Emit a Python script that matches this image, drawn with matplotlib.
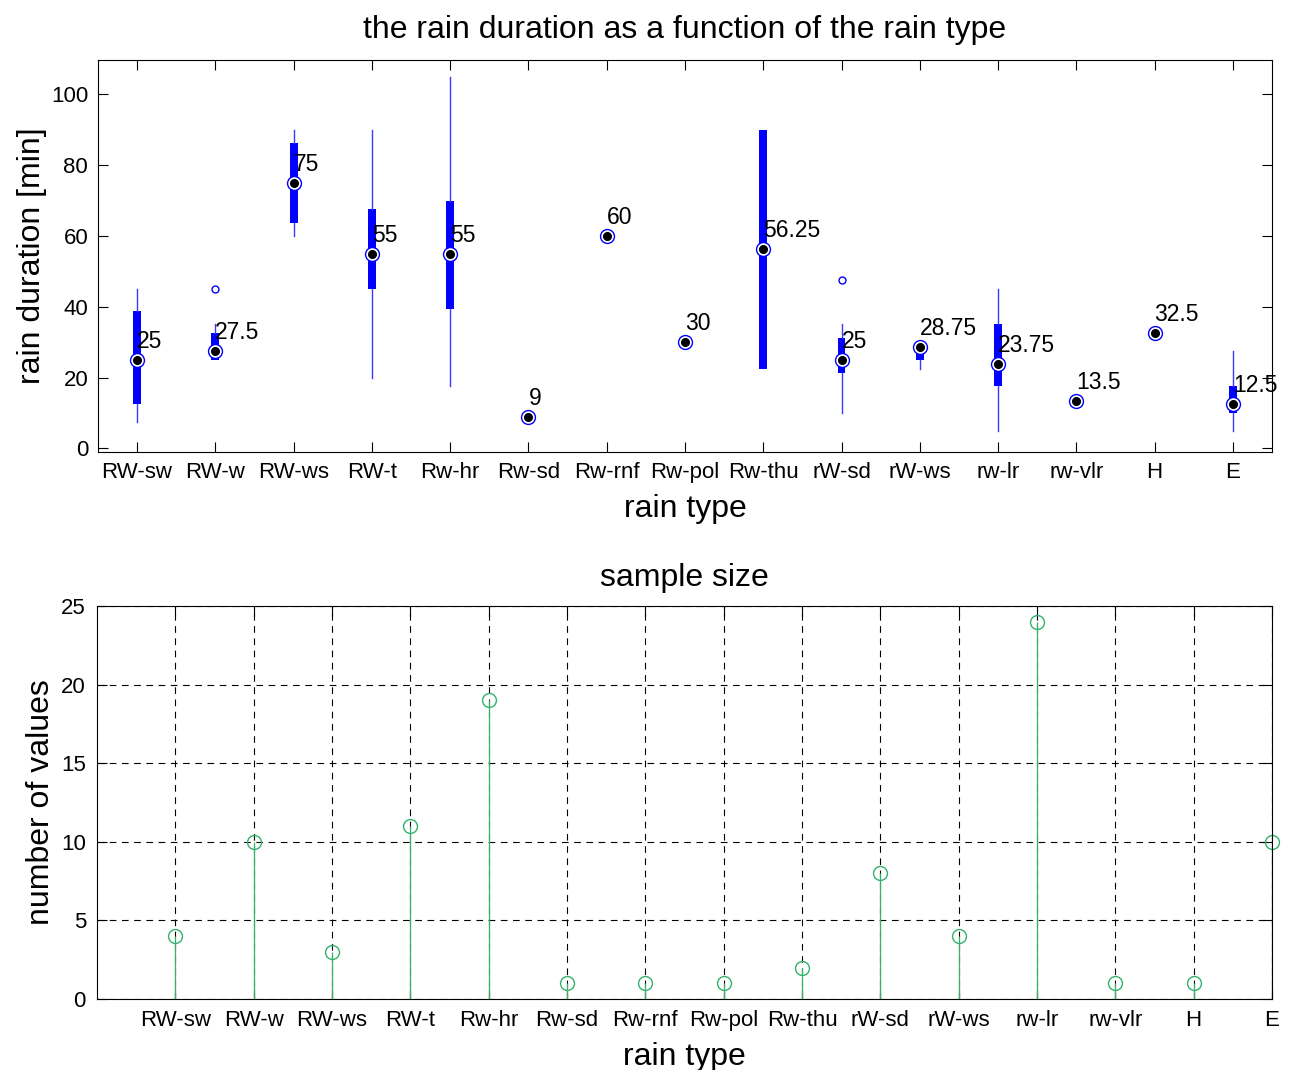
import numpy as np
import matplotlib.pyplot as plt

plt.rcParams['font.family'] = ['Liberation Sans', 'DejaVu Sans']

# rain types
types = ['RW-sw', 'RW-w', 'RW-ws', 'RW-t', 'Rw-hr', 'Rw-sd', 'Rw-rnf', 'Rw-pol',
         'Rw-thu', 'rW-sd', 'rW-ws', 'rw-lr', 'rw-vlr', 'H', 'E']

# box statistics of rain duration [min]
whis_lo = [7.5, 25, 60, 20, 17.5, 9, 60, 30, 22.5, 10, 22.5, 5, 13.5, 32.5, 5]
q1 = [12.5, 25, 63.75, 45, 39.5, 9, 60, 30, 22.5, 21.25, 25, 17.5, 13.5, 32.5, 10]
med = [25, 27.5, 75, 55, 55, 9, 60, 30, 56.25, 25, 28.75, 23.75, 13.5, 32.5, 12.5]
q3 = [38.75, 32.5, 86.25, 67.5, 70, 9, 60, 30, 90, 31.25, 30, 35, 13.5, 32.5, 17.5]
whis_hi = [45, 35, 90, 90, 105, 9, 60, 30, 90, 35, 30, 45, 13.5, 32.5, 27.5]
outliers = [[], [45], [], [], [], [], [], [], [], [47.5], [], [], [], [], []]

# sample size
n_values = [4, 10, 3, 11, 19, 1, 1, 1, 2, 8, 4, 24, 1, 1, 10]

pos = np.arange(1, len(types) + 1)

fig = plt.figure(figsize=(12.89, 10.70), dpi=100)

# ---- box plot ----
ax1 = fig.add_axes([0.076, 0.5776, 0.9108, 0.3664])
stats = []
for i in range(len(types)):
    stats.append(dict(whislo=whis_lo[i], q1=q1[i], med=med[i], q3=q3[i],
                      whishi=whis_hi[i], fliers=outliers[i]))
ax1.bxp(stats, positions=pos, widths=0.1, patch_artist=True, showcaps=False,
        boxprops=dict(facecolor='blue', edgecolor='blue', linewidth=0),
        whiskerprops=dict(color='#3a3aff', linewidth=1),
        medianprops=dict(linewidth=0),
        flierprops=dict(marker='o', markerfacecolor='none', markeredgecolor='blue',
                        markersize=5, markeredgewidth=1))
ax1.plot(pos, med, 'o', markersize=10, markerfacecolor='white',
         markeredgecolor='blue', markeredgewidth=1, zorder=5)
ax1.plot(pos, med, 'o', markersize=5.5, color='black', zorder=6)
for p, m in zip(pos, med):
    ax1.annotate('%g' % m, (p, m), xytext=(0, 12), textcoords='offset pixels',
                 ha='left', va='baseline', fontsize=16.5)

ax1.set_xlim(0.5, 15.5)
ax1.set_ylim(-1, 109.7)
ax1.set_xticks(pos)
ax1.set_xticklabels(types)
ax1.set_yticks(np.arange(0, 101, 20))
ax1.tick_params(direction='in', length=7, top=True, right=True, labelsize=16, pad=7)
ax1.set_title('the rain duration as a function of the rain type', fontsize=23, pad=16)
ax1.set_xlabel('rain type', fontsize=23, labelpad=8)
ax1.set_ylabel('rain duration [min]', fontsize=23, labelpad=3)

# ---- sample size ----
ax2 = fig.add_axes([0.0753, 0.0664, 0.9115, 0.3673])
markerline, stemlines, baseline = ax2.stem(pos, n_values, basefmt=' ')
plt.setp(stemlines, color='#33b26b', linewidth=0.9)
plt.setp(markerline, marker='o', markersize=10, markerfacecolor='none',
         markeredgecolor='#33b26b', markeredgewidth=1, clip_on=False)
ax2.set_xlim(0, 15)
ax2.set_ylim(0, 25)
ax2.set_xticks(pos)
ax2.set_xticklabels(types)
ax2.set_yticks(np.arange(0, 26, 5))
ax2.grid(True, color='black', linestyle=(0, (6, 5)), linewidth=0.8)
ax2.tick_params(direction='in', length=7, top=True, right=True, labelsize=16, pad=8)
ax2.set_title('sample size', fontsize=23, pad=14)
ax2.set_xlabel('rain type', fontsize=23, labelpad=8)
ax2.set_ylabel('number of values', fontsize=23, labelpad=4)

fig.savefig('out.png', dpi=100)
